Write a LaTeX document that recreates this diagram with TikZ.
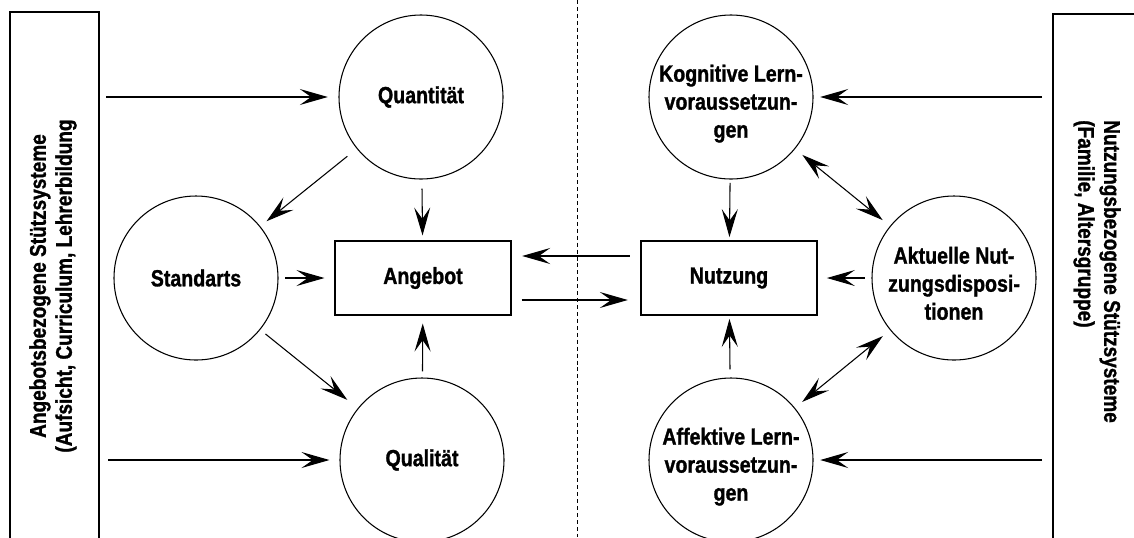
\documentclass[tikz,border=0pt]{standalone}
\usepackage{fontspec}
\setmainfont{Liberation Sans}[FakeStretch=0.85, BoldFont={Liberation Sans Bold}, BoldFeatures={FakeStretch=0.84, FakeBold=1.2}]
\usetikzlibrary{arrows.meta}
\tikzset{
  circnode/.style={circle, draw, line width=0.8pt, minimum size=123pt, inner sep=0pt},
  circtext/.style={align=center, inner sep=0pt, font=\fontsize{17.5}{21}\selectfont\bfseries},
  boxnode/.style={rectangle, draw, line width=0.8pt, minimum width=132pt, minimum height=55.5pt, inner sep=0pt,
    font=\fontsize{17.5}{21}\selectfont\bfseries},
  sidetext/.style={inner sep=0pt, font=\fontsize{17}{19.5}\selectfont\bfseries},
  tip/.tip={Stealth[length=21pt,width=12pt,inset=8.5pt]},
  arr/.style={line width=0.8pt, -tip},
  darr/.style={line width=0.8pt, tip-tip},
  frame/.style={line width=0.8pt}
}
\begin{document}
\begin{tikzpicture}[x=0.75pt,y=-0.75pt]
\useasboundingbox (0,0) rectangle (1134,537);
% side frames
\draw[frame] (10,545) -- (10,12) -- (99,12) -- (99,545);
\draw[frame] (1053,545) -- (1053,14) -- (1140,14);
\node[sidetext, rotate=90, align=center] (lefttext) at (53,286)
  {Angebotsbezogene Stützsysteme\\(Aufsicht, Curriculum, Lehrerbildung};
\node[sidetext, rotate=-90, align=left, anchor=west] (righttext) at (1097,120)
  {Nutzungsbezogene Stützsysteme\\(Familie, Altersgruppe)};
% dashed divider
\draw[line width=0.6pt, dash pattern=on 3pt off 2.2pt] (577,0) -- (577,537);
% nodes
\node[circnode, label={[circtext]center:Quantität}] (quan) at (421,97) {};
\node[circnode, label={[circtext]center:Standarts}] (stand) at (196,278) {};
\node[circnode, label={[circtext]center:Qualität}] (qual) at (422,460) {};
\node[boxnode] (ang) at (423,278) {Angebot};
\node[boxnode] (nutz) at (729,278) {Nutzung};
\node[circnode, label={[circtext, yshift=-5pt]center:Kognitive Lern-\\voraussetzun-\\gen}] (kogn) at (731,97) {};
\node[circnode, label={[circtext, yshift=-4pt]center:Aktuelle Nut-\\zungsdisposi-\\tionen}] (aktu) at (954,278) {};
\node[circnode, label={[circtext, yshift=-5pt]center:Affektive Lern-\\voraussetzun-\\gen}] (affe) at (731,460) {};
% free ends
\coordinate (lq) at (106,97);
\coordinate (lql) at (108,460);
\coordinate (rk) at (1042,97);
\coordinate (ra) at (1042,460);
% connectors left
\draw[arr, shorten >=8pt] (lq) -- (quan);
\draw[arr, shorten >=7.5pt] (lql) -- (qual);
\draw[arr, shorten <=9pt, shorten >=6pt] (quan) -- (stand);
\draw[arr, shorten <=5pt, shorten >=10pt] (stand) -- (qual);
\draw[arr, shorten <=5pt, shorten >=7.5pt] (stand) -- (ang);
\draw[arr, shorten <=6.75pt, shorten >=3.75pt] (quan) -- (ang);
\draw[arr, shorten <=4.5pt, shorten >=6pt] (qual) -- (ang);
% middle
\draw[arr, shorten <=8pt, shorten >=8pt] ([yshift=16.5pt]nutz.west) -- ([yshift=16.5pt]ang.east);
\draw[arr, shorten <=7.5pt, shorten >=9.5pt] ([yshift=-16.5pt]ang.east) -- ([yshift=-16.5pt]nutz.west);
% right
\draw[arr, shorten >=5pt] (rk) -- (kogn);
\draw[arr, shorten >=5pt] (ra) -- (affe);
\draw[arr, shorten <=2.5pt, shorten >=2.5pt] (kogn) -- (nutz);
\draw[arr, shorten <=6pt, shorten >=2.5pt] (affe) -- (nutz);
\draw[arr, shorten <=5pt, shorten >=7pt] (aktu) -- (nutz);
\draw[darr, shorten <=7pt, shorten >=7pt] (kogn) -- (aktu);
\draw[darr, shorten <=7pt, shorten >=7pt] (aktu) -- (affe);
\end{tikzpicture}
\end{document}
